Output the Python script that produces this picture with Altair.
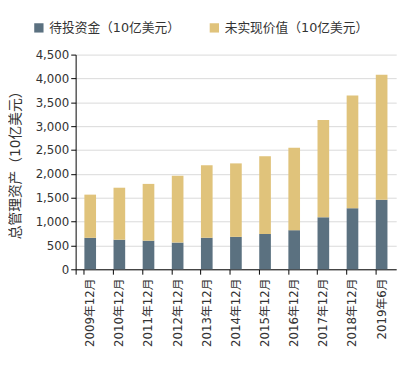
import altair as alt
import pandas as pd

periods = ["2009年12月", "2010年12月", "2011年12月", "2012年12月", "2013年12月",
           "2014年12月", "2015年12月", "2016年12月", "2017年12月", "2018年12月", "2019年6月"]
dry_powder = [660, 620, 600, 560, 660, 680, 740, 820, 1090, 1280, 1460]
unrealized = [905, 1090, 1190, 1400, 1520, 1540, 1630, 1730, 2040, 2365, 2620]
series = ["待投资金（10亿美元）", "未实现价值（10亿美元）"]
colors = ["#5B7180", "#E0C37B"]

rows = []
for i, p in enumerate(periods):
    rows.append({"period": p, "series": series[0], "value": dry_powder[i], "ord": 0})
    rows.append({"period": p, "series": series[1], "value": unrealized[i], "ord": 1})
df = pd.DataFrame(rows)

font = "DejaVu Sans, Noto Sans CJK SC"

chart = alt.Chart(df).mark_bar().encode(
    x=alt.X("period:N", sort=periods, title=None,
            scale=alt.Scale(paddingInner=0.6, paddingOuter=0.3),
            axis=alt.Axis(labelAngle=-90, labelFontSize=12, labelColor="#333333",
                          domainColor="#000000", tickColor="#000000", tickSize=5,
                          bandPosition=0, tickExtra=True, labelPadding=4,
                          labelFont=font, grid=False)),
    y=alt.Y("value:Q", stack="zero", title="总管理资产（10亿美元）",
            scale=alt.Scale(domain=[0, 4500], nice=False),
            axis=alt.Axis(values=list(range(0, 4501, 500)), format=",.0f", labelFontSize=12,
                          labelColor="#333333", labelFont=font,
                          domainColor="#000000", tickColor="#000000", tickSize=5,
                          gridColor="#D9D9D9", titleFontSize=14, titleFont=font,
                          titleFontWeight="normal", titleColor="#333333",
                          titleX=-61, titleY=109, titleAngle=-90, titleAlign="center",
                          titleBaseline="middle")),
    color=alt.Color("series:N", sort=series,
                    scale=alt.Scale(domain=series, range=colors),
                    legend=alt.Legend(title=None, orient="none", legendX=-44, legendY=-34,
                                      direction="horizontal", symbolType="square",
                                      symbolSize=90, labelFontSize=13, labelFont=font,
                                      labelColor="#333333", columnPadding=28,
                                      symbolStrokeWidth=0)),
    order=alt.Order("ord:Q", sort="ascending"),
).properties(
    width=327, height=219,
    autosize=alt.AutoSizeParams(type="none"),
    padding={"left": 69, "top": 44, "right": 10, "bottom": 90},
).configure_view(stroke=None).configure_axis(domainWidth=1)

chart.save("out.html", embed_options={"renderer": "svg", "actions": False})
